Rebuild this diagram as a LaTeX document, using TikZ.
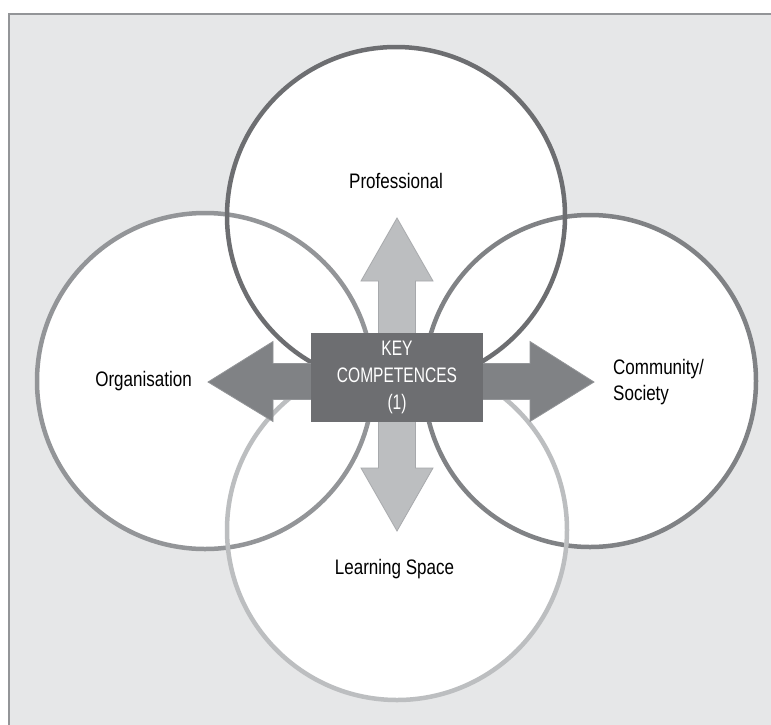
\documentclass[tikz,border=0pt]{standalone}
\usepackage{fontspec}
\setmainfont{Liberation Sans}[FakeStretch=0.81]
\newfontfamily\boxfont{Liberation Sans}[FakeStretch=0.74]
\definecolor{bggray}{HTML}{E6E7E8}
\definecolor{framegray}{HTML}{939598}
\definecolor{cdark}{HTML}{6D6E71}
\definecolor{cmid}{HTML}{939598}
\definecolor{cright}{HTML}{808285}
\definecolor{clight}{HTML}{BCBEC0}
\definecolor{harrow}{HTML}{808285}
\definecolor{harrowline}{HTML}{939598}
\definecolor{varrow}{HTML}{BCBEC0}
\definecolor{varrowline}{HTML}{A7A9AC}
\tikzset{
  ring/.style={line width=4.5pt},
  lbl/.style={inner sep=0pt, font=\fontsize{21}{26.5}\selectfont, text=black},
  keybox/.style={fill=cdark, minimum width=172pt, minimum height=89pt, inner sep=0pt,
    text=white, align=center, font=\boxfont\fontsize{21}{26.7}\selectfont}
}
\begin{document}
\begin{tikzpicture}[x=1pt,y=-1pt]
\useasboundingbox (0,0) rectangle (771,724);
% background frame
\fill[white] (0,0) rectangle (771,724);
\fill[bggray] (9,13.5) rectangle (780,735);
\draw[framegray, line width=2pt] (9,735) -- (9,13.5) -- (780,13.5);
% circle fills
\fill[white] (396,216) circle (169);
\fill[white] (205,381) circle (168);
\fill[white] (590,381) circle (166);
\fill[white] (397,530) circle (170);
% circle strokes
\draw[ring, cmid] (205,381) circle (168);
\draw[ring, cright] (590,381) circle (166);
\draw[ring, clight] (397,530) circle (170);
\draw[ring, cdark] (396,216) circle (169);
% vertical double arrow
\filldraw[fill=varrow, draw=varrowline, line width=0.8pt]
  (397,218) -- (433,281) -- (415.5,281) -- (415.5,468) -- (433,468) -- (397,531)
  -- (361,468) -- (378.5,468) -- (378.5,281) -- (361,281) -- cycle;
% horizontal double arrow
\filldraw[fill=harrow, draw=harrowline, line width=0.8pt]
  (208,382) -- (273,341.5) -- (273,363.5) -- (530,363.5) -- (530,341.5) -- (594,382)
  -- (530,421.5) -- (530,399.5) -- (273,399.5) -- (273,421.5) -- cycle;
% central box
\node[keybox] (kc) at (397,377.5) {KEY\\COMPETENCES\\(1)};
% labels
\node[lbl, anchor=base] (prof) at (396,188) {Professional};
\node[lbl, anchor=base] (org) at (143.5,386.5) {Organisation};
\node[lbl, anchor=west, align=left] (comm) at (613,382) {Community/\\Society};
\node[lbl, anchor=base] (learn) at (394.5,574) {Learning Space};
\end{tikzpicture}
\end{document}
